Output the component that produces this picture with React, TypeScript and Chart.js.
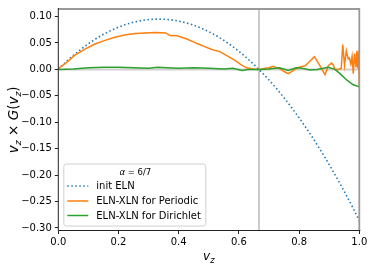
import React, { useEffect, useRef } from 'react';
import { Chart, registerables } from 'chart.js';
Chart.register(...registerables);

const initVz = [0, 0.025, 0.05, 0.075, 0.1, 0.125, 0.15, 0.175, 0.2, 0.225, 0.25, 0.275, 0.3, 0.325, 0.35, 0.375, 0.4, 0.425, 0.45, 0.475, 0.5, 0.525, 0.55, 0.575, 0.6, 0.625, 0.65, 0.675, 0.7, 0.725, 0.75, 0.775, 0.8, 0.825, 0.85, 0.875, 0.9, 0.925, 0.95, 0.975, 1.0];
const initVal = [0, 0.01375, 0.02643, 0.03804, 0.04857, 0.05804, 0.06643, 0.07375, 0.08, 0.08518, 0.08929, 0.09232, 0.09429, 0.09518, 0.095, 0.09375, 0.09143, 0.08804, 0.08357, 0.07804, 0.07143, 0.06375, 0.055, 0.04518, 0.03429, 0.02232, 0.00929, -0.00482, -0.02, -0.03625, -0.05357, -0.07196, -0.09143, -0.11196, -0.13357, -0.15625, -0.18, -0.20482, -0.23071, -0.25768, -0.28571];

const perVz = [0, 0.025, 0.055, 0.09, 0.122, 0.155, 0.188, 0.22, 0.255, 0.29, 0.32, 0.345, 0.357, 0.371, 0.394, 0.41, 0.427, 0.449, 0.465, 0.482, 0.504, 0.52, 0.535, 0.56, 0.587, 0.609, 0.626, 0.648, 0.67, 0.687, 0.7, 0.714, 0.725, 0.737, 0.75, 0.764, 0.775, 0.786, 0.8, 0.82, 0.835, 0.851, 0.869, 0.886, 0.897, 0.908, 0.914, 0.919, 0.93, 0.94, 0.945, 0.951, 0.957, 0.963, 0.967, 0.972, 0.976, 0.98, 0.984, 0.989, 0.992, 0.995, 0.998, 1.0];
const perVal = [0.002, 0.012, 0.027, 0.039, 0.048, 0.055, 0.061, 0.065, 0.068, 0.069, 0.07, 0.0695, 0.069, 0.064, 0.0635, 0.061, 0.0575, 0.052, 0.048, 0.044, 0.039, 0.036, 0.034, 0.026, 0.017, 0.008, 0.003, 0.001, 0.0, 0.002, 0.003, 0.006, 0.003, 0.001, -0.004, -0.008, -0.004, 0.0, 0.004, 0.007, 0.015, 0.024, 0.007, -0.01, 0.007, 0.012, 0.008, 0.0, 0.0, 0.002, 0.047, 0.008, 0.035, 0.02, 0.022, 0.01, 0.024, -0.008, 0.03, 0.004, 0.035, 0.002, 0.035, -0.034];

const dirVz = [0, 0.05, 0.1, 0.15, 0.2, 0.25, 0.3, 0.33, 0.36, 0.4, 0.45, 0.5, 0.55, 0.58, 0.61, 0.63, 0.67, 0.7, 0.735, 0.764, 0.79, 0.81, 0.836, 0.86, 0.897, 0.919, 0.936, 0.958, 0.98, 1.0];
const dirVal = [0, 0.001, 0.003, 0.004, 0.004, 0.003, 0.002, 0.004, 0.003, 0.002, 0.003, 0.002, 0.001, 0.002, -0.002, 0.0, 0.0, 0.001, 0.003, -0.002, 0.003, 0.002, -0.001, 0.0, 0.004, 0.0, -0.008, -0.02, -0.029, -0.033];

const seriesLabels = ['init ELN', 'ELN-XLN for Periodic', 'ELN-XLN for Dirichlet'];
const seriesColors = ['#1f77b4', '#ff7f0e', '#2ca02c'];
const xTicks = [0, 0.2, 0.4, 0.6, 0.8, 1.0];
const yTicks = [-0.3, -0.25, -0.2, -0.15, -0.1, -0.05, 0, 0.05, 0.1];
const xRange = [0, 1];
const yRange = [-0.3048, 0.1143];
const vLineX = 0.6667;
const hLineY = 0;

type Seg = { t: string; i?: boolean; s?: boolean };
const xLabel: Seg[] = [{ t: 'v', i: true }, { t: 'z', i: true, s: true }];
const yLabel: Seg[] = [
  { t: 'v', i: true }, { t: 'z', i: true, s: true }, { t: ' × ' }, { t: 'G', i: true },
  { t: '(' }, { t: 'v', i: true }, { t: 'z', i: true, s: true }, { t: ')' },
];
const legendTitle: Seg[] = [{ t: 'α', i: true }, { t: ' = 6/7' }];

const FONT = '"DejaVu Sans", sans-serif';

function segFont(seg: Seg, size: number) {
  const sz = seg.s ? size * 0.7 : size;
  return `${seg.i ? 'italic ' : ''}${sz}px ${FONT}`;
}

function drawRich(ctx: CanvasRenderingContext2D, segs: Seg[], cx: number, cy: number, size: number, rot: number) {
  ctx.save();
  ctx.translate(cx, cy);
  ctx.rotate(rot);
  let total = 0;
  const widths = segs.map((s) => {
    ctx.font = segFont(s, size);
    const w = ctx.measureText(s.t).width;
    total += w;
    return w;
  });
  let x = -total / 2;
  ctx.fillStyle = '#000';
  ctx.textBaseline = 'alphabetic';
  ctx.textAlign = 'left';
  segs.forEach((s, k) => {
    ctx.font = segFont(s, size);
    ctx.fillText(s.t, x, size * 0.35 + (s.s ? size * 0.22 : 0));
    x += widths[k];
  });
  ctx.restore();
}

const overlay = {
  id: 'overlay',
  beforeDatasetsDraw(chart: any) {
    const { ctx, chartArea: a, scales } = chart;
    ctx.save();
    ctx.beginPath();
    ctx.rect(a.left, a.top, a.right - a.left, a.bottom - a.top);
    ctx.clip();
    const y0 = scales.y.getPixelForValue(hLineY);
    ctx.strokeStyle = '#d0d0d0';
    ctx.lineWidth = 2;
    ctx.beginPath();
    ctx.moveTo(a.left, y0);
    ctx.lineTo(a.right, y0);
    ctx.stroke();
    const xv = scales.x.getPixelForValue(vLineX);
    ctx.strokeStyle = '#bdbdbd';
    ctx.lineWidth = 1.6;
    ctx.beginPath();
    ctx.moveTo(xv, a.top);
    ctx.lineTo(xv, a.bottom);
    ctx.stroke();
    ctx.restore();
  },
  afterDraw(chart: any) {
    const { ctx, chartArea: a } = chart;
    ctx.save();
    ctx.strokeStyle = '#999';
    ctx.lineWidth = 1.8;
    ctx.beginPath();
    ctx.moveTo(a.left, a.top);
    ctx.lineTo(a.right, a.top);
    ctx.lineTo(a.right, a.bottom);
    ctx.stroke();
    ctx.strokeStyle = '#222';
    ctx.lineWidth = 1;
    ctx.beginPath();
    ctx.moveTo(a.left, a.top - 1);
    ctx.lineTo(a.left, a.bottom);
    ctx.lineTo(a.right + 1, a.bottom);
    ctx.stroke();
    ctx.restore();

    drawRich(ctx, xLabel, (a.left + a.right) / 2, 256, 12, 0);
    drawRich(ctx, yLabel, 13, (a.top + a.bottom) / 2, 13.5, -Math.PI / 2);

    const lx = a.left + 5, ly = 163.5, lw = 142, lh = 62;
    ctx.save();
    ctx.fillStyle = 'rgba(255,255,255,0.8)';
    ctx.strokeStyle = '#d0d0d0';
    ctx.lineWidth = 1;
    ctx.beginPath();
    (ctx as any).roundRect(lx + 0.5, ly + 0.5, lw, lh, 2.5);
    ctx.fill();
    ctx.stroke();
    ctx.restore();
    drawRich(ctx, legendTitle, lx + lw / 2 + 1, 172, 8.5, 0);
    const rows = [186, 201, 215.5];
    chart.data.datasets.forEach((ds: any, k: number) => {
      const ry = rows[k];
      ctx.save();
      ctx.strokeStyle = ds.borderColor;
      ctx.lineWidth = 1.5;
      ctx.setLineDash(ds.borderDash || []);
      ctx.beginPath();
      ctx.moveTo(lx + 4, ry);
      ctx.lineTo(lx + 25, ry);
      ctx.stroke();
      ctx.restore();
      ctx.save();
      ctx.fillStyle = '#000';
      ctx.font = `10px ${FONT}`;
      ctx.textBaseline = 'middle';
      ctx.textAlign = 'left';
      ctx.fillText(ds.label, lx + 33, ry + 0.5);
      ctx.restore();
    });
  },
};

function fmt(v: number, d: number) {
  const s = Math.abs(v).toFixed(d);
  return (v < -1e-9 ? '−' : '') + s;
}

export default function App() {
  const ref = useRef<HTMLCanvasElement | null>(null);
  useEffect(() => {
    document.body.style.margin = '0';
    const canvas = ref.current!;
    const mk = (vz: number[], val: number[]) => vz.map((x, k) => ({ x, y: val[k] }));
    const chart = new Chart(canvas, {
      type: 'line',
      data: {
        datasets: [
          { label: seriesLabels[0], data: mk(initVz, initVal), borderColor: seriesColors[0], borderWidth: 1.6, borderDash: [1.5, 2.5], pointRadius: 0, order: 2, tension: 0 },
          { label: seriesLabels[1], data: mk(perVz, perVal), borderColor: seriesColors[1], borderWidth: 1.5, pointRadius: 0, order: 1, tension: 0 },
          { label: seriesLabels[2], data: mk(dirVz, dirVal), borderColor: seriesColors[2], borderWidth: 1.5, pointRadius: 0, order: 0, tension: 0 },
        ] as any,
      },
      options: {
        animation: false,
        responsive: false,
        devicePixelRatio: 1,
        layout: { padding: { top: 5, right: 14.7, left: 0, bottom: 0 } },
        plugins: { legend: { display: false }, tooltip: { enabled: false } },
        scales: {
          x: {
            type: 'linear',
            min: xRange[0],
            max: xRange[1],
            afterBuildTicks: (s: any) => { s.ticks = xTicks.map((v) => ({ value: v })); },
            afterFit: (s: any) => { s.height = 36.5; },
            ticks: { font: { family: FONT, size: 10 }, color: '#000', padding: 2, maxRotation: 0, callback: (v: any) => fmt(Number(v), 1) },
            grid: { drawOnChartArea: false, drawTicks: true, tickLength: 3.5, tickColor: '#222' },
            border: { display: false },
          },
          y: {
            type: 'linear',
            min: yRange[0],
            max: yRange[1],
            afterBuildTicks: (s: any) => { s.ticks = yTicks.map((v) => ({ value: v })); },
            afterFit: (s: any) => { s.width = 58.3; },
            ticks: { font: { family: FONT, size: 10 }, color: '#000', padding: 3, callback: (v: any) => fmt(Number(v), 2) },
            grid: { drawOnChartArea: false, drawTicks: true, tickLength: 3.5, tickColor: '#222' },
            border: { display: false },
          },
        },
      },
      plugins: [overlay as any],
    });
    return () => chart.destroy();
  }, []);
  return <canvas ref={ref} width={374} height={267} style={{ display: 'block', width: 374, height: 267 }} />;
}
